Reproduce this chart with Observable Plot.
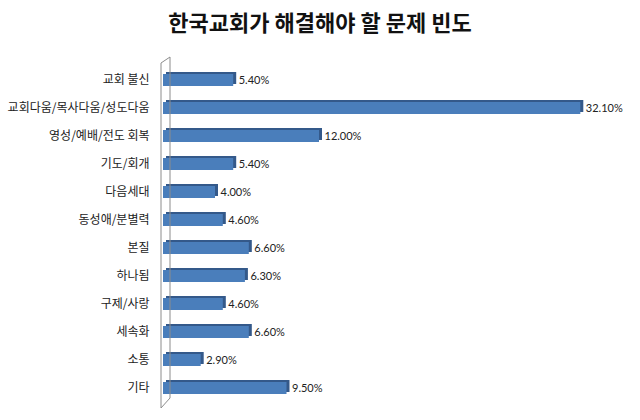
<!DOCTYPE html>
<html>
<head>
<meta charset="utf-8">
<script src="https://cdn.jsdelivr.net/npm/d3@7"></script>
<script src="https://cdn.jsdelivr.net/npm/@observablehq/plot@0.6"></script>
<style>
  body { margin: 0; background: #fff; font-family: "Noto Sans CJK KR", "Noto Sans", sans-serif; }
  #title { height: 46px; line-height: 42px; text-align: center; font-size: 22px; font-weight: bold; color: #111; width: 640px; }
</style>
</head>
<body>
<div id="title">한국교회가 해결해야 할 문제 빈도</div>
<div id="chart"></div>
<script>
const categories = ["교회 불신","교회다움/목사다움/성도다움","영성/예배/전도 회복","기도/회개","다음세대","동성애/분별력","본질","하나됨","구제/사랑","세속화","소통","기타"];
const values = [5.4, 32.1, 12.0, 5.4, 4.0, 4.6, 6.6, 6.3, 4.6, 6.6, 2.9, 9.5];
const data = categories.map((c, i) => ({c, v: values[i]}));

const W = 640, H = 374, mT = 14.6, mB = 13.6, mL = 163, mR = 22;
const plot = Plot.plot({
  width: W, height: H,
  marginLeft: mL, marginRight: mR, marginTop: mT, marginBottom: mB,
  style: {fontFamily: '"Noto Sans CJK KR", sans-serif', background: "#fff"},
  x: {domain: [0, 35], axis: null},
  y: {domain: categories, paddingInner: 0.58, paddingOuter: 0.29, label: null, axis: null},
  marks: [
    Plot.axisY({tickSize: 0, tickPadding: 14, fontSize: 12, fill: "#222"}),
    Plot.barX(data, {x: "v", y: "c", fill: "#34598a", dx: 3, dy: -2}),
    Plot.barX(data, {x: "v", y: "c", fill: "#4a7ebb"}),
    Plot.text(data, {x: "v", y: "c", text: d => d.v.toFixed(2) + "%", textAnchor: "start", dx: 5, fontSize: 11, fill: "#222", fontFamily: "Lato, sans-serif"})
  ]
});
document.getElementById("chart").appendChild(plot);

// back wall drawn from the x scale origin
const x0 = plot.scale("x").apply(0);
const wallTop = mT, wallBot = H - mB;
const wl = x0 - 2, wr = x0 + 7;
d3.select(plot).append("path")
  .attr("d", `M${wr},${wallTop - 3.6}L${wl},${wallTop + 2.4}L${wl},${wallBot + 1.6}L${wr},${wallBot - 8.4}Z`)
  .attr("fill", "none").attr("stroke", "#8c8c8c").attr("stroke-width", 1);
</script>
</body>
</html>
